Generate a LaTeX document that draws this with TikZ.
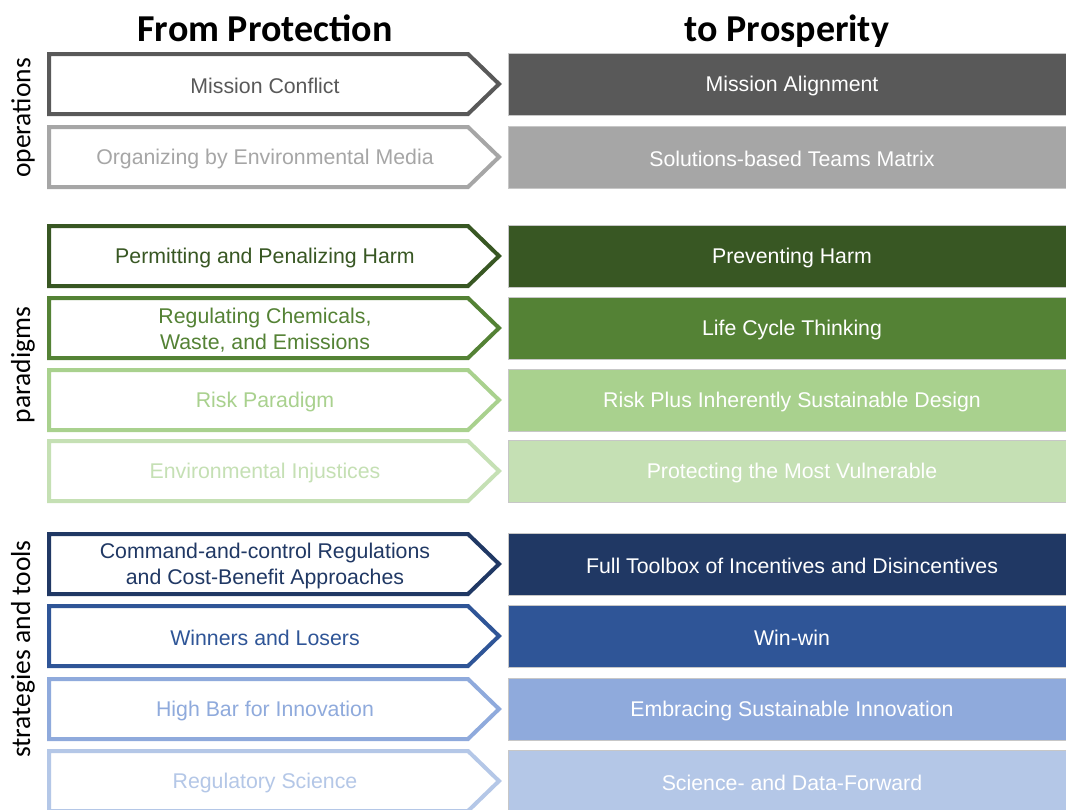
\documentclass[tikz,border=0pt]{standalone}
\usepackage{fontspec}
\usepackage{tikz}
\setmainfont{Liberation Sans}
\newfontfamily\calibriFont{Carlito}
\tikzstyle{sheet} = [x = 1pt, y = -1pt]
\definecolor{grayDark}{HTML}{595959}
\definecolor{grayLight}{HTML}{A6A6A6}
\definecolor{greenDarkest}{HTML}{385723}
\definecolor{greenDark}{HTML}{548235}
\definecolor{greenLight}{HTML}{A9D18E}
\definecolor{greenLightest}{HTML}{C5E0B4}
\definecolor{blueDarkest}{HTML}{203864}
\definecolor{blueDark}{HTML}{2F5597}
\definecolor{blueLight}{HTML}{8FAADC}
\definecolor{blueLightest}{HTML}{B4C7E7}
\tikzstyle{fromShape} = [line width = 4pt, fill=white, line join=miter]
\tikzstyle{toShape} = [draw=black!22, line width=.8pt]
\tikzstyle{fromText} = [font=\fontsize{21.3}{26}\selectfont, align=center]
\tikzstyle{toText} = [font=\fontsize{21.3}{26}\selectfont, align=center, text=white]
\tikzstyle{titleText} = [font=\calibriFont\bfseries\fontsize{38}{40}\selectfont, anchor=base]
\tikzstyle{groupText} = [font=\calibriFont\fontsize{27.5}{30}\selectfont, rotate=90]
\newcommand{\fromToRow}[5]{
  \filldraw [fromShape, draw=#3] (49, #2 - 30) -- (468, #2 - 30) -- (499, #2) -- (468, #2 + 30) -- (49, #2 + 30) -- cycle;
  \node [fromText, text=#3] (from#1) at (265, #2 + 2) {#4};
  \filldraw [toShape, fill=#3] (508, #2 - 31) rectangle (1070, #2 + 31);
  \node [toText] (to#1) at (792, #2 + 2) {#5};
}

\begin{document}
\begin{tikzpicture}[sheet]
  \useasboundingbox (0, 0) rectangle (1066, 809);
  \node [titleText] (fromTitle) at (265, 41) {From Protection};
  \node [titleText] (toTitle) at (787, 41) {to Prosperity};

  \node [groupText] (groupOperations) at (23, 118) {operations};
  \node [groupText] (groupParadigms) at (23, 365) {paradigms};
  \node [groupText] (groupStrategies) at (23, 649) {strategies and tools};

  \fromToRow{Mission}{84}{grayDark}{Mission Conflict}{Mission Alignment}
  \fromToRow{Media}{157}{grayLight}{Organizing by Environmental Media}{Solutions-based Teams Matrix}

  \fromToRow{Harm}{256}{greenDarkest}{Permitting and Penalizing Harm}{Preventing Harm}
  \fromToRow{Cycle}{328}{greenDark}{Regulating Chemicals,\\Waste, and Emissions}{Life Cycle Thinking}
  \fromToRow{Risk}{400}{greenLight}{Risk Paradigm}{Risk Plus Inherently Sustainable Design}
  \fromToRow{Justice}{471}{greenLightest}{Environmental Injustices}{Protecting the Most Vulnerable}

  \fromToRow{Toolbox}{564}{blueDarkest}{Command-and-control Regulations\\and Cost-Benefit Approaches}{Full Toolbox of Incentives and Disincentives}
  \fromToRow{Win}{636}{blueDark}{Winners and Losers}{Win-win}
  \fromToRow{Innovation}{709}{blueLight}{High Bar for Innovation}{Embracing Sustainable Innovation}
  \fromToRow{Science}{781}{blueLightest}{Regulatory Science}{Science- and Data-Forward}
\end{tikzpicture}
\end{document}
